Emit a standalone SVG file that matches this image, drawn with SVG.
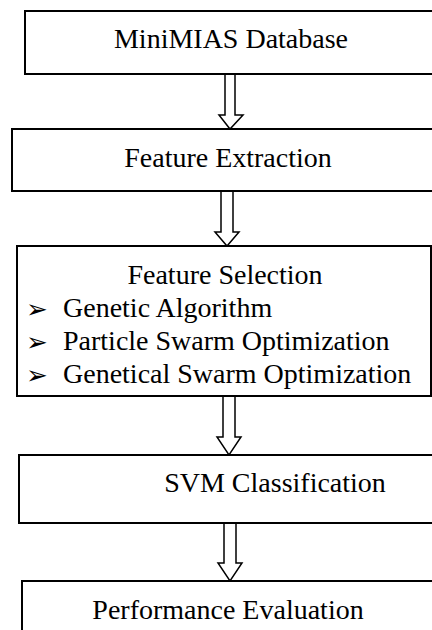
<svg xmlns="http://www.w3.org/2000/svg" width="432" height="630" viewBox="0 0 432 630">
<style>
.box{fill:#fff;stroke:#000;stroke-width:2}
.arr{fill:#fff;stroke:#000;stroke-width:1.5;stroke-linejoin:miter}
text{fill:#000}
.b{font-size:26px}
</style>
<rect width="432" height="630" fill="#fff"/>
<g id="connectors">
<polygon class="arr" points="225,74 235,74 235,115 243,115 230,129 219,115 225,115"/>
<polygon class="arr" points="221,191 233,191 233,232 239,232 227,246 215,232 221,232"/>
<polygon class="arr" points="223,396 235,396 235,437 241,437 229,455 217,437 223,437"/>
<polygon class="arr" points="224,523 236,523 236,563 242,563 230,581 218,563 224,563"/>
</g>
<g font-family="Liberation Serif, Times New Roman, DejaVu Serif, serif" font-size="28">
<g id="n1">
<rect class="box" x="25" y="11" width="420" height="63"/>
<text x="231" y="48" text-anchor="middle">MiniMIAS Database</text>
</g>
<g id="n2">
<rect class="box" x="12" y="129" width="430" height="62"/>
<text x="228" y="167" text-anchor="middle">Feature Extraction</text>
</g>
<g id="n3">
<rect class="box" x="17" y="246" width="414" height="150"/>
<text x="225" y="284" text-anchor="middle">Feature Selection</text>
<text class="b" font-family="DejaVu Sans, sans-serif" x="26" y="318">➢</text>
<text x="63" y="317">Genetic Algorithm</text>
<text class="b" font-family="DejaVu Sans, sans-serif" x="26" y="351">➢</text>
<text x="63" y="350">Particle Swarm Optimization</text>
<text class="b" font-family="DejaVu Sans, sans-serif" x="26" y="384">➢</text>
<text x="63" y="383">Genetical Swarm Optimization</text>
</g>
<g id="n4">
<rect class="box" x="19" y="455" width="430" height="68"/>
<text x="275" y="492" text-anchor="middle">SVM Classification</text>
</g>
<g id="n5">
<rect class="box" x="22" y="581" width="430" height="60"/>
<text x="228" y="619" text-anchor="middle">Performance Evaluation</text>
</g>
</g>
</svg>
